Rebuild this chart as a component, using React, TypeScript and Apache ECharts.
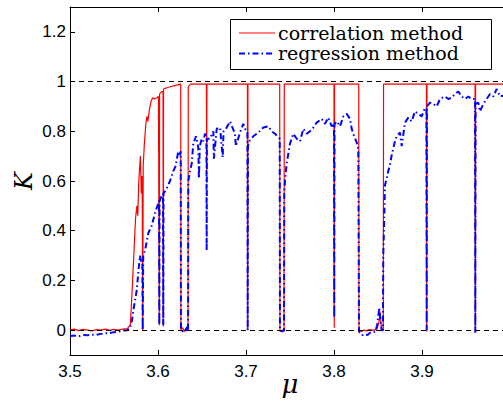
import React, { useEffect, useRef } from "react";
import * as echarts from "echarts";

// correlation method (red, solid)
const corrMu = [
  3.500, 3.505, 3.510, 3.515, 3.520, 3.525, 3.530, 3.535, 3.540, 3.545, 3.550, 3.555, 3.560, 3.565,
  3.5685, 3.5705, 3.5725, 3.5745, 3.5760, 3.5770, 3.5782, 3.5800, 3.5810, 3.5820, 3.5826, 3.5832,
  3.5845, 3.5862, 3.5875, 3.5885, 3.5900, 3.5920, 3.5940, 3.5960, 3.5985, 3.6005, 3.6012, 3.6015,
  3.6018, 3.6040, 3.6057, 3.6060, 3.6063, 3.6100, 3.6150, 3.6200, 3.6258, 3.6261, 3.6280, 3.6300,
  3.6320, 3.6341, 3.6344, 3.6370, 3.6450, 3.6550, 3.6553, 3.6556, 3.6650, 3.6800, 3.7016, 3.7019,
  3.7022, 3.7200, 3.7383, 3.7386, 3.7410, 3.7432, 3.7435, 3.7600, 3.8000, 3.8003, 3.8006, 3.8281,
  3.8284, 3.8310, 3.8340, 3.8370, 3.8400, 3.8430, 3.8460, 3.8490, 3.8515, 3.8523, 3.8535, 3.8550,
  3.8560, 3.8563, 3.9050, 3.9053, 3.9056, 3.9603, 3.9606, 3.9609, 4.000,
];
const corrK = [
  0.000, 0.004, -0.002, 0.003, 0.000, -0.003, 0.002, 0.000, 0.004, -0.001, 0.003, 0.000, 0.004, 0.006,
  0.02, 0.15, 0.30, 0.45, 0.50, 0.46, 0.60, 0.70, 0.55, 0.62, 0.00, 0.66,
  0.75, 0.83, 0.86, 0.84, 0.88, 0.92, 0.935, 0.93, 0.935, 0.94, 0.94, 0.02,
  0.95, 0.96, 0.96, 0.015, 0.97, 0.975, 0.98, 0.985, 0.99, 0.0, 0.01, -0.005,
  0.01, 0.0, 0.98, 0.99, 0.99, 0.99, 0.64, 0.99, 0.99, 0.99, 0.99, 0.0,
  0.99, 0.99, 0.99, -0.005, 0.0, -0.005, 0.99, 0.99, 0.99, 0.01, 0.99, 0.99,
  0.0, -0.005, 0.0, -0.003, 0.002, 0.0, 0.0, 0.005, 0.04, 0.075, 0.02, 0.0,
  0.0, 0.99, 0.99, -0.005, 0.99, 0.99, 0.0, 0.99, 0.99,
];

// regression method (blue, dash-dot)
const regMu = [
  3.500, 3.505, 3.510, 3.515, 3.520, 3.525, 3.530, 3.535, 3.540, 3.545, 3.550, 3.555, 3.560, 3.565,
  3.568, 3.5705, 3.572, 3.5758, 3.5776, 3.5795, 3.5810, 3.5822, 3.5826, 3.5832, 3.5852, 3.5890,
  3.5928, 3.5966, 3.6003, 3.6012, 3.6015, 3.6018, 3.6040, 3.6057, 3.6060, 3.6063, 3.6099, 3.6136,
  3.6174, 3.6200, 3.6231, 3.6245, 3.6258, 3.6261, 3.6280, 3.6300, 3.6320, 3.6335, 3.6342, 3.6344,
  3.6364, 3.6383, 3.6401, 3.6432, 3.6458, 3.6465, 3.6475, 3.6497, 3.6515, 3.6534, 3.6550, 3.6553,
  3.6556, 3.6591, 3.6629, 3.6635, 3.6667, 3.6705, 3.6735, 3.6745, 3.6780, 3.6818, 3.6875, 3.6885,
  3.6932, 3.6969, 3.6989, 3.7016, 3.7019, 3.7022, 3.7038, 3.7083, 3.7140, 3.7197, 3.7253, 3.7292,
  3.7330, 3.7367, 3.7383, 3.7386, 3.7410, 3.7432, 3.7435, 3.7443, 3.7462, 3.7500, 3.7538, 3.7576,
  3.7614, 3.7651, 3.7690, 3.7727, 3.7765, 3.7803, 3.7860, 3.7898, 3.7935, 3.7974, 3.8000, 3.8003,
  3.8006, 3.8031, 3.8068, 3.8106, 3.8144, 3.8182, 3.8201, 3.8219, 3.8258, 3.8276, 3.8284, 3.8290,
  3.8320, 3.8350, 3.8380, 3.8410, 3.8440, 3.8470, 3.8490, 3.8515, 3.8525, 3.8540, 3.8556, 3.8560,
  3.8580, 3.8599, 3.8617, 3.8636, 3.8656, 3.8693, 3.8712, 3.8750, 3.8769, 3.8807, 3.8844, 3.8883,
  3.8920, 3.8958, 3.8997, 3.9034, 3.9050, 3.9053, 3.9056, 3.9091, 3.9128, 3.9167, 3.9205, 3.9261,
  3.9299, 3.9337, 3.9375, 3.9413, 3.9451, 3.9489, 3.9526, 3.9565, 3.9603, 3.9606, 3.9609, 3.9640,
  3.9659, 3.9697, 3.9735, 3.9773, 3.9810, 3.9849, 3.9886, 4.000,
];
const regK = [
  -0.024, -0.022, -0.025, -0.020, -0.021, -0.018, -0.019, -0.015, -0.013, -0.012, -0.008, -0.006, -0.002, 0.000,
  0.005, 0.04, 0.08, 0.16, 0.23, 0.30, 0.27, 0.28, 0.00, 0.30, 0.32, 0.39,
  0.42, 0.47, 0.51, 0.52, 0.02, 0.52, 0.54, 0.55, 0.02, 0.55, 0.57, 0.60,
  0.64, 0.66, 0.72, 0.70, 0.72, 0.0, -0.005, 0.005, -0.003, 0.02, 0.0, 0.60,
  0.64, 0.67, 0.75, 0.78, 0.735, 0.61, 0.74, 0.77, 0.76, 0.79, 0.78, 0.32,
  0.77, 0.77, 0.80, 0.69, 0.81, 0.815, 0.695, 0.80, 0.815, 0.84, 0.79, 0.74,
  0.795, 0.83, 0.81, 0.80, 0.0, 0.74, 0.76, 0.78, 0.795, 0.815, 0.82, 0.80,
  0.79, 0.775, 0.77, 0.0, -0.005, 0.0, 0.55, 0.60, 0.67, 0.75, 0.79, 0.77,
  0.76, 0.81, 0.79, 0.80, 0.815, 0.835, 0.85, 0.83, 0.855, 0.82, 0.83, 0.05,
  0.83, 0.84, 0.82, 0.86, 0.87, 0.85, 0.81, 0.79, 0.755, 0.73, 0.0, -0.01,
  -0.02, -0.015, -0.02, -0.01, -0.012, -0.005, 0.02, 0.09, 0.05, 0.0, 0.0, 0.3,
  0.585, 0.61, 0.64, 0.665, 0.705, 0.76, 0.78, 0.795, 0.74, 0.835, 0.855, 0.84,
  0.88, 0.87, 0.86, 0.895, 0.89, 0.0, 0.90, 0.915, 0.91, 0.90, 0.93, 0.94,
  0.93, 0.935, 0.95, 0.96, 0.94, 0.93, 0.94, 0.93, 0.93, -0.01, 0.91, 0.915,
  0.88, 0.91, 0.93, 0.95, 0.94, 0.97, 0.94, 0.95,
];

const xTicks = [3.5, 3.6, 3.7, 3.8, 3.9, 4.0];
const xLabels = [3.5, 3.6, 3.7, 3.8, 3.9];
const yTicks = [0, 0.2, 0.4, 0.6, 0.8, 1, 1.2];
const refLines = [0, 1];
const seriesNames = ["correlation method", "regression method"];

const zip = (a: number[], b: number[]) => a.map((v, i) => [v, b[i]]);

export default function App() {
  const ref = useRef<HTMLDivElement>(null);
  useEffect(() => {
    if (!ref.current) return;
    const chart = echarts.init(ref.current, undefined, { renderer: "svg" });
    const tickFont = { color: "#000", fontSize: 17, fontFamily: "Liberation Sans, Arial, sans-serif" };
    const dashed = [5, 4];
    chart.setOption({
      animation: false,
      backgroundColor: "#fff",
      grid: { left: 70, top: 7, width: 440, height: 348, containLabel: false, outerBoundsMode: "none" },
      xAxis: [
        {
          type: "value",
          min: 3.5,
          max: 4.0,
          name: "μ",
          nameLocation: "middle",
          nameGap: 16,
          nameMoveOverlap: false,
          nameTextStyle: { fontFamily: "DejaVu Serif, serif", fontStyle: "italic", fontSize: 26, color: "#000" },
          axisLine: { show: true, onZero: false, lineStyle: { color: "#000", width: 1 } },
          axisTick: { show: true, inside: true, length: 5, customValues: xTicks, lineStyle: { color: "#000" } },
          axisLabel: { ...tickFont, margin: 8, customValues: xLabels, formatter: (v: number) => v.toFixed(1) },
          splitLine: { show: false },
        },
        {
          type: "value",
          position: "top",
          min: 3.5,
          max: 4.0,
          axisLine: { show: true, onZero: false, lineStyle: { color: "#000", width: 1 } },
          axisTick: { show: true, inside: true, length: 5, customValues: xTicks, lineStyle: { color: "#000" } },
          axisLabel: { show: false },
          splitLine: { show: false },
        },
      ],
      yAxis: {
        type: "value",
        min: -0.1,
        max: 1.3,
        name: "K",
        nameLocation: "middle",
        nameRotate: 90,
        nameGap: 34,
        nameMoveOverlap: false,
        nameTextStyle: { fontFamily: "DejaVu Serif, serif", fontStyle: "italic", fontSize: 24, color: "#000" },
        axisLine: { show: true, onZero: false, lineStyle: { color: "#000", width: 1 } },
        axisTick: { show: true, inside: true, length: 5, customValues: yTicks, lineStyle: { color: "#000" } },
        axisLabel: { ...tickFont, margin: 4, customValues: yTicks, formatter: (v: number) => String(Math.round(v * 10) / 10) },
        splitLine: { show: false },
      },
      series: [
        {
          name: seriesNames[0],
          type: "line",
          data: zip(corrMu, corrK),
          showSymbol: false,
          symbol: "none",
          lineStyle: { color: "#ff0000", width: 1.2 },
          markLine: {
            silent: true,
            symbol: ["none", "none"],
            label: { show: false },
            lineStyle: { color: "#000", type: dashed, width: 1 },
            data: refLines.map((v) => ({ yAxis: v })),
          },
          z: 2,
        },
        {
          name: seriesNames[1],
          type: "line",
          data: zip(regMu, regK),
          showSymbol: false,
          symbol: "none",
          lineStyle: { color: "#0000ff", width: 2, type: [6, 3, 1.5, 3] },
          z: 3,
        },
      ],
      graphic: [
        {
          type: "rect",
          z: 100,
          shape: { x: 230.5, y: 19.5, width: 261, height: 50 },
          style: { fill: "#fff", stroke: "#000", lineWidth: 1 },
        },
        {
          type: "line",
          z: 101,
          shape: { x1: 239, y1: 33, x2: 275, y2: 33 },
          style: { stroke: "#ff0000", lineWidth: 1.2 },
        },
        {
          type: "line",
          z: 101,
          shape: { x1: 239, y1: 53.5, x2: 275, y2: 53.5 },
          style: { stroke: "#0000ff", lineWidth: 2, lineDash: [6, 3, 1.5, 3] },
        },
        {
          type: "text",
          z: 101,
          x: 278,
          y: 33,
          style: { text: seriesNames[0], fill: "#000", font: "19px 'DejaVu Serif', serif", textVerticalAlign: "middle" },
        },
        {
          type: "text",
          z: 101,
          x: 278,
          y: 53,
          style: { text: seriesNames[1], fill: "#000", font: "19px 'DejaVu Serif', serif", textVerticalAlign: "middle" },
        },
      ],
    });
    return () => chart.dispose();
  }, []);
  return <div ref={ref} style={{ position: "absolute", left: 0, top: 0, width: 503, height: 405 }} />;
}
